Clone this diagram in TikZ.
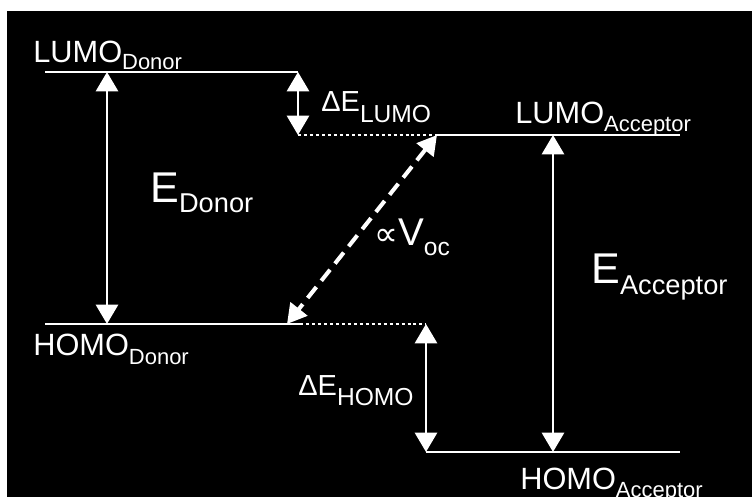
\documentclass[tikz,border=0pt]{standalone}
\usepackage{fontspec}
\setmainfont{Liberation Sans}
\newfontfamily\symfont{DejaVu Sans}
\usetikzlibrary{arrows.meta}

\newcommand{\lowsub}[3]{\raisebox{-#1}{\fontsize{#2}{#2}\selectfont #3}}

\begin{document}
\begin{tikzpicture}[
  x=0.02cm, y=-0.02cm,
  orbital/.style={white, line width=1.7pt},
  gapline/.style={white, line width=1.1pt, dash pattern=on 1.7pt off 1.7pt},
  span/.style={{Triangle[width=12.5pt,length=11pt]}-{Triangle[width=12.5pt,length=11pt]},
               white, line width=1.7pt},
  vocarrow/.style={{Triangle[width=12pt,length=11pt]}-{Triangle[width=12pt,length=11pt]},
                   white, line width=2.3pt, dash pattern=on 8pt off 4.5pt},
  lbl/.style={text=white, inner sep=0pt, anchor=base west},
  lvlfont/.style={font=\fontsize{17.5}{17.5}\selectfont},
  bigfont/.style={font=\fontsize{24.5}{24.5}\selectfont},
  gapfont/.style={font=\fontsize{16.5}{16.5}\selectfont}
]
\useasboundingbox (0,0) rectangle (752,497);
\fill[white] (0,0) rectangle (752,497);
\fill[black] (7,11) rectangle (752,497);

\coordinate (ldA) at (45,72);   \coordinate (ldB) at (298,72);
\coordinate (laA) at (298,135); \coordinate (laB) at (437,135); \coordinate (laC) at (680,135);
\coordinate (hdA) at (45,324);  \coordinate (hdB) at (300,324); \coordinate (hdC) at (426,324);
\coordinate (haA) at (426,452); \coordinate (haB) at (680,452);
\coordinate (edT) at (107,72);  \coordinate (edB) at (107,324);
\coordinate (eaT) at (553,135); \coordinate (eaB) at (553,452);
\coordinate (vcB) at (287,324);

\draw[orbital] (ldA) -- (ldB);
\draw[gapline] (laA) -- (laB);
\draw[orbital] (laB) -- (laC);
\draw[orbital] (hdA) -- (hdB);
\draw[gapline] (hdB) -- (hdC);
\draw[orbital] (haA) -- (haB);

\draw[span] (edT) -- (edB);
\draw[span] (ldB) -- (laA);
\draw[span] (hdC) -- (haA);
\draw[span] (eaT) -- (eaB);
\draw[vocarrow] (laB) -- (vcB);

\node[lbl, lvlfont] (lumoD) at (33,62) {LUMO\lowsub{4.5pt}{12.5}{Donor}};
\node[lbl, lvlfont] (homoD) at (33,355) {HOMO\lowsub{5.5pt}{12.5}{Donor}};
\node[lbl, lvlfont] (lumoA) at (515,123) {LUMO\lowsub{5pt}{12.5}{Acceptor}};
\node[lbl, lvlfont] (homoA) at (520,489) {HOMO\lowsub{5pt}{12.5}{Acceptor}};
\node[lbl, bigfont] (eD) at (150,202) {E\lowsub{6pt}{15.5}{Donor}};
\node[lbl, bigfont] (eA) at (591,283) {E\lowsub{6.5pt}{15.5}{Acceptor}};
\node[lbl, gapfont] (dL) at (321,112) {ΔE\lowsub{5.7pt}{14}{LUMO}};
\node[lbl, gapfont] (dH) at (298,395) {ΔE\lowsub{6pt}{14}{HOMO}};
\node[lbl] (voc) at (374,245) {{\symfont\fontsize{19}{19}\selectfont ∝}{\fontsize{22}{22}\selectfont V}\lowsub{5.7pt}{14}{oc}};
\end{tikzpicture}
\end{document}
